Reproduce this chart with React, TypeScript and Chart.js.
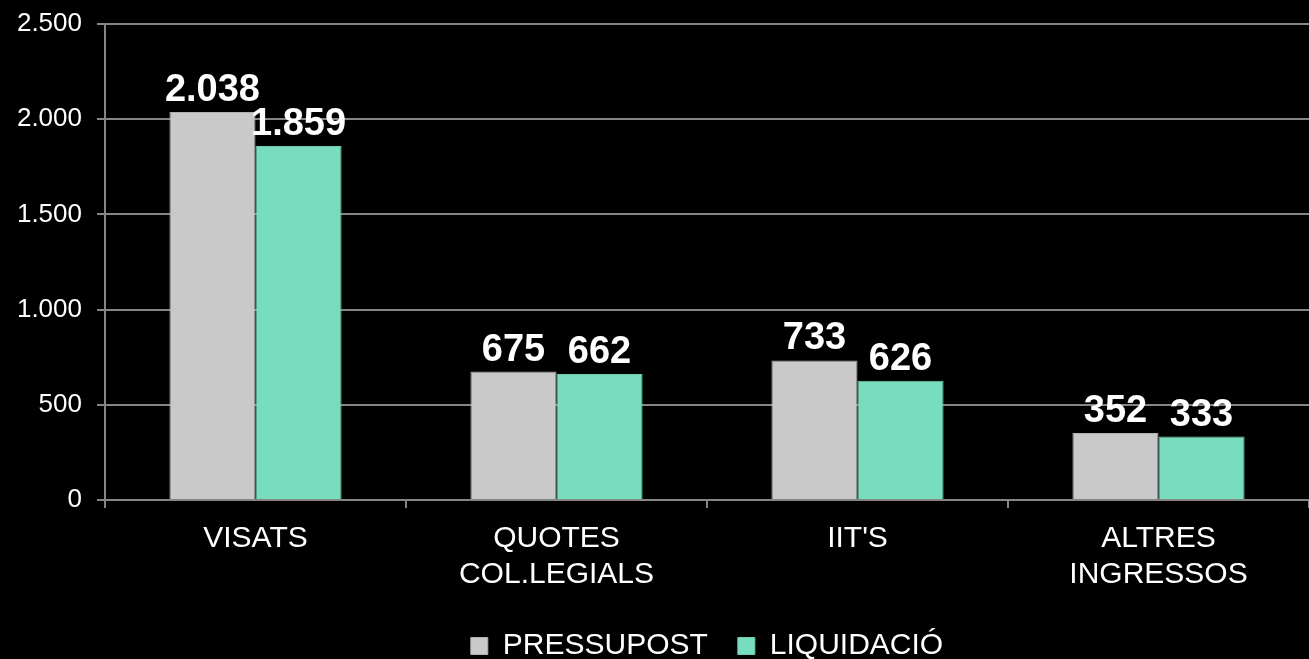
import React, { useEffect, useRef } from "react";
import { Chart, registerables } from "chart.js";

Chart.register(...registerables);

const categories: (string | string[])[] = ["VISATS", ["QUOTES", "COL.LEGIALS"], "IIT'S", ["ALTRES", "INGRESSOS"]];
const seriesNames = ["PRESSUPOST", "LIQUIDACIÓ"];
const pressupost = [2038, 675, 733, 352];
const liquidacio = [1859, 662, 626, 333];
const yTicks = [0, 500, 1000, 1500, 2000, 2500];

const fmt = (v: number) => String(v).replace(/\B(?=(\d{3})+(?!\d))/g, ".");

const FONT = "'Liberation Sans', Arial, Helvetica, sans-serif";
const GRID = "#858585";

const valueLabels = {
  id: "valueLabels",
  afterDatasetsDraw(chart: any) {
    const ctx = chart.ctx;
    ctx.save();
    ctx.fillStyle = "#ffffff";
    ctx.font = `bold 38px ${FONT}`;
    ctx.textAlign = "center";
    ctx.textBaseline = "alphabetic";
    chart.data.datasets.forEach((ds: any, di: number) => {
      const meta = chart.getDatasetMeta(di);
      meta.data.forEach((bar: any, i: number) => {
        ctx.fillText(fmt(ds.data[i]), bar.x, bar.y - 11);
      });
    });
    ctx.restore();
  },
};

export default function App() {
  const ref = useRef<HTMLCanvasElement>(null);
  useEffect(() => {
    document.body.style.margin = "0";
    document.body.style.background = "#000";
    const chart = new Chart(ref.current!, {
      type: "bar",
      data: {
        labels: categories,
        datasets: [
          {
            label: seriesNames[0],
            data: pressupost,
            backgroundColor: "#c9c9c9",
            borderColor: "#b0b0b0",
            borderWidth: 1,
          },
          {
            label: seriesNames[1],
            data: liquidacio,
            backgroundColor: "#78dcbf",
            borderColor: "#6ccdb1",
            borderWidth: 1,
          },
        ],
      },
      options: {
        animation: false,
        responsive: false,
        maintainAspectRatio: false,
        layout: { padding: { top: 6, right: 0, left: 0, bottom: -12 } },
        datasets: { bar: { categoryPercentage: 0.572, barPercentage: 1 } },
        plugins: {
          tooltip: { enabled: false },
          legend: {
            position: "bottom",
            fullSize: false,
            labels: {
              color: "#ffffff",
              font: { family: FONT, size: 30 },
              boxWidth: 17,
              boxHeight: 17,
              padding: 30,
            },
          },
        },
        scales: {
          x: {
            grid: {
              offset: true,
              drawOnChartArea: false,
              drawTicks: true,
              tickLength: 8,
              color: GRID,
              lineWidth: 2,
            },
            border: { display: true, color: GRID, width: 2 },
            ticks: {
              color: "#ffffff",
              font: { family: FONT, size: 30, lineHeight: 1.2 },
              padding: 13,
              maxRotation: 0,
            },
            afterFit: (s: any) => {
              s.height = 101;
            },
          },
          y: {
            min: 0,
            max: 2500,
            afterBuildTicks: (s: any) => {
              s.ticks = yTicks.map((v) => ({ value: v }));
            },
            grid: { color: GRID, tickLength: 8, lineWidth: 2 },
            border: { display: true, color: GRID, width: 2 },
            ticks: {
              color: "#ffffff",
              font: { family: FONT, size: 26, lineHeight: 0.7 },
              padding: 15,
              callback: (v: any) => fmt(Number(v)),
            },
            afterFit: (s: any) => {
              s.width = 105;
            },
          },
        },
      },
      plugins: [valueLabels],
    });
    return () => chart.destroy();
  }, []);
  return (
    <div style={{ width: 1309, height: 659, background: "#000" }}>
      <canvas ref={ref} width={1309} height={659} style={{ display: "block" }} />
    </div>
  );
}
